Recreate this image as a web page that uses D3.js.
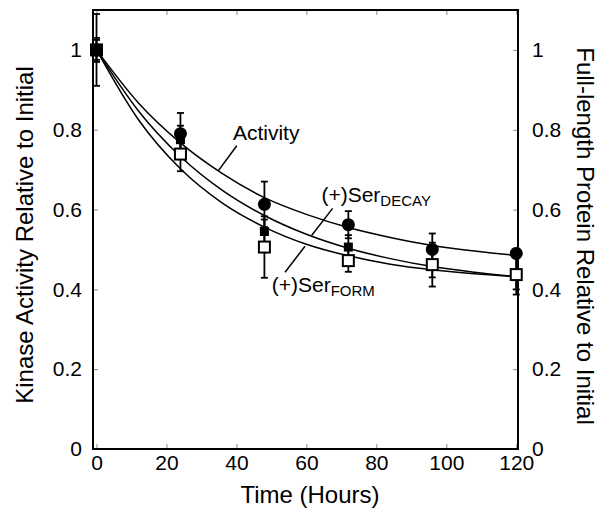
<!DOCTYPE html>
<html>
<head>
<meta charset="utf-8">
<script src="https://cdn.jsdelivr.net/npm/d3@7"></script>
<style>
  body { margin: 0; background: #fff; }
  text { font-family: "Liberation Sans", Arial, Helvetica, sans-serif; fill: #000; }
</style>
</head>
<body>
<div id="chart"></div>
<script>
// measured points (hours)
const times = [0, 24, 48, 72, 96, 120];
const activity = [1.0, 0.79, 0.613, 0.562, 0.50, 0.49];
const activityErr = [0.09, 0.052, 0.057, 0.034, 0.04, 0.012];
const serDecay = [1.0, 0.775, 0.545, 0.506, 0.46, 0.44];
const serDecayErr = [0.03, 0.035, 0.03, 0.03, 0.03, 0.04];
const serForm = [1.0, 0.739, 0.506, 0.472, 0.462, 0.437];
const serFormErr = [0.025, 0.043, 0.077, 0.028, 0.055, 0.05];

// fitted curves
const curveTimes = [0, 12, 24, 36, 48, 60, 72, 84, 96, 108, 120];
const activityCurve = [1.0, 0.867, 0.767, 0.690, 0.630, 0.588, 0.555, 0.530, 0.510, 0.496, 0.485];
const decayCurve = [1.0, 0.847, 0.733, 0.648, 0.585, 0.538, 0.503, 0.477, 0.457, 0.443, 0.432];
const formCurve = [1.0, 0.825, 0.702, 0.616, 0.556, 0.513, 0.484, 0.463, 0.449, 0.439, 0.432];

const xTicks = [0, 20, 40, 60, 80, 100, 120];
const yTicks = [0, 0.2, 0.4, 0.6, 0.8, 1];
const yTickLabels = ["0", "0.2", "0.4", "0.6", "0.8", "1"];

const width = 600, height = 512;
const plotLeft = 93, plotRight = 518, plotTop = 10, plotBottom = 449;

const svg = d3.select('#chart').append('svg')
    .attr('width', width)
    .attr('height', height);

const x = d3.scaleLinear().domain([-1, 120.5]).range([plotLeft, plotRight]);
const y = d3.scaleLinear().domain([0, 1.1]).range([plotBottom, plotTop]);

// axes with inward ticks
function styleAxis(g) {
    g.select('.domain').remove();
    g.selectAll('.tick line').attr('stroke', '#888').attr('stroke-width', 1);
    g.selectAll('.tick text').style('font-size', '21px');
}
const yFmt = d => yTickLabels[yTicks.indexOf(d)];

svg.append('g')
    .attr('transform', `translate(0,${plotBottom})`)
    .call(d3.axisBottom(x).tickValues(xTicks).tickSizeInner(-5).tickSizeOuter(0).tickPadding(6))
    .call(styleAxis);
svg.append('g')
    .attr('transform', `translate(0,${plotTop})`)
    .call(d3.axisTop(x).tickValues(xTicks).tickSizeInner(-5).tickSizeOuter(0).tickFormat(''))
    .call(styleAxis);
svg.append('g')
    .attr('transform', `translate(${plotLeft},0)`)
    .call(d3.axisLeft(y).tickValues(yTicks).tickFormat(yFmt).tickSizeInner(-5).tickSizeOuter(0).tickPadding(11))
    .call(styleAxis);
svg.append('g')
    .attr('transform', `translate(${plotRight},0)`)
    .call(d3.axisRight(y).tickValues(yTicks).tickFormat(yFmt).tickSizeInner(-5).tickSizeOuter(0).tickPadding(14))
    .call(styleAxis);

// frame
svg.append('rect')
    .attr('x', plotLeft).attr('y', plotTop)
    .attr('width', plotRight - plotLeft).attr('height', plotBottom - plotTop)
    .attr('fill', 'none').attr('stroke', '#000').attr('stroke-width', 2);

// axis titles
svg.append('text')
    .attr('x', 310).attr('y', 503)
    .attr('text-anchor', 'middle')
    .style('font-size', '24px')
    .text('Time (Hours)');
svg.append('text')
    .attr('transform', 'translate(33,235) rotate(-90)')
    .attr('text-anchor', 'middle')
    .style('font-size', '24px')
    .text('Kinase Activity Relative to Initial');
svg.append('text')
    .attr('transform', 'translate(577,236) rotate(90)')
    .attr('text-anchor', 'middle')
    .style('font-size', '24px')
    .text('Full-length Protein Relative to Initial');

// fit curves
const line = d3.line()
    .x((d, i) => x(curveTimes[i]))
    .y(d => y(d))
    .curve(d3.curveMonotoneX);
[activityCurve, decayCurve, formCurve].forEach(c => {
    svg.append('path')
        .attr('d', line(c))
        .attr('fill', 'none')
        .attr('stroke', '#000')
        .attr('stroke-width', 1.5);
});

// error bars
function errorBars(vals, errs) {
    const g = svg.append('g').attr('stroke', '#000').attr('stroke-width', 1.8);
    vals.forEach((v, i) => {
        const cx = x(times[i]);
        g.append('line').attr('x1', cx).attr('x2', cx).attr('y1', y(v + errs[i])).attr('y2', y(v - errs[i]));
        g.append('line').attr('x1', cx - 3.5).attr('x2', cx + 3.5).attr('y1', y(v + errs[i])).attr('y2', y(v + errs[i]));
        g.append('line').attr('x1', cx - 3.5).attr('x2', cx + 3.5).attr('y1', y(v - errs[i])).attr('y2', y(v - errs[i]));
    });
}
errorBars(activity, activityErr);
errorBars(serDecay, serDecayErr);
errorBars(serForm, serFormErr);

// markers: filled squares, then open squares, circles on top
svg.selectAll('.fsq').data(serDecay).enter().append('rect')
    .attr('x', (d, i) => x(times[i]) - 4.5)
    .attr('y', d => y(d) - 4.5)
    .attr('width', 9).attr('height', 9)
    .attr('fill', '#000');
svg.selectAll('.osq').data(serForm).enter().append('rect')
    .attr('x', (d, i) => x(times[i]) - 5.5)
    .attr('y', d => y(d) - 5.5)
    .attr('width', 11).attr('height', 11)
    .attr('fill', '#fff')
    .attr('stroke', '#000')
    .attr('stroke-width', 2);
svg.selectAll('.circ').data(activity).enter().append('circle')
    .attr('cx', (d, i) => x(times[i]))
    .attr('cy', d => y(d))
    .attr('r', 6.5)
    .attr('fill', '#000');

// annotations
function leader(x1, y1, x2, y2) {
    svg.append('line')
        .attr('x1', x(x1)).attr('y1', y(y1))
        .attr('x2', x(x2)).attr('y2', y(y2))
        .attr('stroke', '#000').attr('stroke-width', 1.5);
}
svg.append('text')
    .attr('x', x(39)).attr('y', y(0.775))
    .style('font-size', '21px')
    .text('Activity');
leader(40.1, 0.76, 34.8, 0.697);

const decayLabel = svg.append('text')
    .attr('x', x(64.3)).attr('y', y(0.618))
    .style('font-size', '21px');
decayLabel.append('tspan').text('(+)Ser');
decayLabel.append('tspan').attr('dy', 4).style('font-size', '15px').text('DECAY');
leader(67.5, 0.603, 61.5, 0.535);

const formLabel = svg.append('text')
    .attr('x', x(50.1)).attr('y', y(0.393))
    .style('font-size', '21px');
formLabel.append('tspan').text('(+)Ser');
formLabel.append('tspan').attr('dy', 4).style('font-size', '15px').text('FORM');
leader(53.9, 0.443, 59.6, 0.508);
</script>
</body>
</html>
